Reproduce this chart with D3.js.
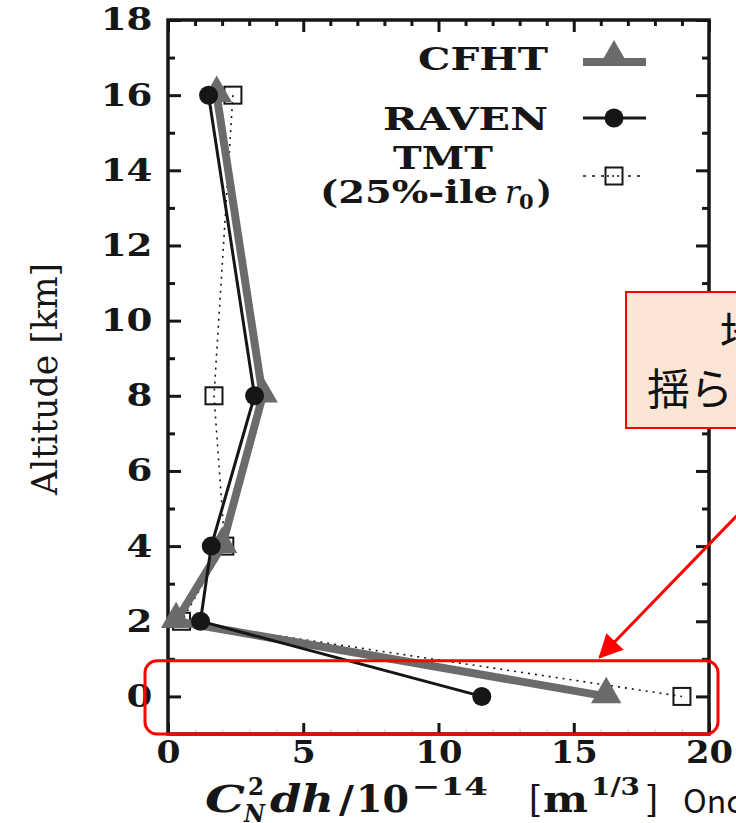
<!DOCTYPE html>
<html>
<head>
<meta charset="utf-8">
<script src="https://cdn.jsdelivr.net/npm/d3@7"></script>
<style>
  html, body { margin: 0; padding: 0; background: #fff; overflow: hidden; }
  svg { display: block; }
</style>
</head>
<body>
<svg id="chart" width="736" height="823"></svg>
<script>
// Altitude levels [km] and integrated turbulence C_N^2 dh [1e-14 m^(1/3)]
const altitudes = [16, 8, 4, 2, 0];
const cfhtValues = [1.8, 3.5, 2.0, 0.3, 16.2];
const ravenValues = [1.5, 3.2, 1.6, 1.2, 11.6];
const tmtValues = [2.4, 1.7, 2.1, 0.5, 19.0];

const xMajorTicks = [0, 5, 10, 15, 20];
const xMinorTicks = [1, 2, 3, 4, 6, 7, 8, 9, 11, 12, 13, 14, 16, 17, 18, 19];
const yMajorTicks = [0, 2, 4, 6, 8, 10, 12, 14, 16, 18];
const yMinorTicks = [1, 3, 5, 7, 9, 11, 13, 15, 17];

const svg = d3.select("#chart");
const plotLeft = 168, plotRight = 709, plotTop = 20, plotBottom = 734;

const x = d3.scaleLinear().domain([0, 20]).range([plotLeft, plotRight]);
const y = d3.scaleLinear().domain([-1, 18]).range([plotBottom, plotTop]);

const GRAY = "#6b6b6b";
const INK = "#161616";
const SERIF = "DejaVu Serif";

// ---- axes: inward ticks on all four sides ----
function styleAxis(g) {
  g.select(".domain").remove();
  g.selectAll(".tick line").attr("stroke", INK).attr("stroke-width", 3);
}
// wide bold numerals: stretch the glyphs horizontally
function labelFont(g) {
  g.selectAll("text")
    .attr("font-family", SERIF).attr("font-weight", "bold")
    .attr("font-size", 31).attr("fill", INK)
    .attr("transform", "scale(1.2,1)");
}

svg.append("g").attr("transform", `translate(${plotLeft},0)`)
  .call(d3.axisLeft(y).tickValues(yMajorTicks).tickSize(-13).tickPadding(13).tickFormat(d3.format("d")))
  .call(styleAxis).call(labelFont);
svg.append("g").attr("transform", `translate(${plotLeft},0)`)
  .call(d3.axisLeft(y).tickValues(yMinorTicks).tickSize(-7).tickFormat(""))
  .call(styleAxis);
svg.append("g").attr("transform", `translate(${plotRight},0)`)
  .call(d3.axisRight(y).tickValues(yMajorTicks).tickSize(-13).tickFormat(""))
  .call(styleAxis);
svg.append("g").attr("transform", `translate(${plotRight},0)`)
  .call(d3.axisRight(y).tickValues(yMinorTicks).tickSize(-7).tickFormat(""))
  .call(styleAxis);

svg.append("g").attr("transform", `translate(0,${plotBottom})`)
  .call(d3.axisBottom(x).tickValues(xMajorTicks).tickSize(-11).tickPadding(7).tickFormat(d3.format("d")))
  .call(styleAxis).call(labelFont)
  .call(g => g.selectAll("text").attr("transform", null).attr("textLength", d => d >= 10 ? 47 : 24)
    .attr("lengthAdjust", "spacingAndGlyphs"));
svg.append("g").attr("transform", `translate(0,${plotBottom})`)
  .call(d3.axisBottom(x).tickValues(xMinorTicks).tickSize(-5).tickFormat(""))
  .call(styleAxis)
  .call(g => g.selectAll(".tick line").attr("stroke", "#d9d9d9").attr("stroke-width", 1.5));
svg.append("g").attr("transform", `translate(0,${plotTop})`)
  .call(d3.axisTop(x).tickValues(xMajorTicks).tickSize(-12).tickFormat(""))
  .call(styleAxis);
svg.append("g").attr("transform", `translate(0,${plotTop})`)
  .call(d3.axisTop(x).tickValues(xMinorTicks).tickSize(-6).tickFormat(""))
  .call(styleAxis);

// plot frame
svg.append("rect")
  .attr("x", plotLeft).attr("y", plotTop)
  .attr("width", plotRight - plotLeft).attr("height", plotBottom - plotTop)
  .attr("fill", "none").attr("stroke", INK).attr("stroke-width", 3.5);

// ---- series ----
const pts = vals => vals.map((v, i) => [x(v), y(altitudes[i])]);
const line = d3.line();
const tri = d3.symbol().type(d3.symbolTriangle).size(400);
const sq = 17;

// TMT (dotted, open squares)
svg.selectAll(".tmt").data(pts(tmtValues)).join("rect")
  .attr("class", "tmt")
  .attr("x", d => d[0] - sq / 2).attr("y", d => d[1] - sq / 2)
  .attr("width", sq).attr("height", sq)
  .attr("fill", "#fff").attr("stroke", INK).attr("stroke-width", 2);
svg.append("path").attr("d", line(pts(tmtValues)))
  .attr("fill", "none").attr("stroke", INK).attr("stroke-width", 1.6)
  .attr("stroke-dasharray", "2,5");

// CFHT (thick gray, triangles)
svg.append("path").attr("d", line(pts(cfhtValues)))
  .attr("fill", "none").attr("stroke", GRAY).attr("stroke-width", 8)
  .attr("stroke-linejoin", "miter");
svg.selectAll(".cfht").data(pts(cfhtValues)).join("path")
  .attr("class", "cfht")
  .attr("d", tri).attr("transform", d => `translate(${d[0]},${d[1] - 2})`)
  .attr("fill", GRAY);

// RAVEN (black, filled circles)
svg.append("path").attr("d", line(pts(ravenValues)))
  .attr("fill", "none").attr("stroke", INK).attr("stroke-width", 3);
svg.selectAll(".raven").data(pts(ravenValues)).join("circle")
  .attr("class", "raven")
  .attr("cx", d => d[0]).attr("cy", d => d[1]).attr("r", 9.5)
  .attr("fill", INK);

// ---- legend ----
const lg = svg.append("g").attr("font-family", SERIF).attr("font-weight", "bold")
  .attr("fill", INK).attr("font-size", 31);
const lx0 = 583, lx1 = 646, lxm = 614;
const stretch = s => s.attr("lengthAdjust", "spacingAndGlyphs");

lg.append("text").attr("x", 418).attr("y", 70).attr("textLength", 130).call(stretch).text("CFHT");
lg.append("line").attr("x1", lx0).attr("x2", lx1).attr("y1", 62).attr("y2", 62)
  .attr("stroke", GRAY).attr("stroke-width", 8);
lg.append("path").attr("d", d3.symbol().type(d3.symbolTriangle).size(330)())
  .attr("transform", `translate(${lxm},56)`).attr("fill", GRAY);

lg.append("text").attr("x", 383).attr("y", 130).attr("textLength", 165).call(stretch).text("RAVEN");
lg.append("line").attr("x1", lx0).attr("x2", lx1).attr("y1", 118).attr("y2", 118)
  .attr("stroke", INK).attr("stroke-width", 3);
lg.append("circle").attr("cx", lxm).attr("cy", 118).attr("r", 9.5).attr("fill", INK);

lg.append("text").attr("x", 393).attr("y", 169).attr("textLength", 100).call(stretch).text("TMT");
lg.append("text").attr("x", 320).attr("y", 203).attr("textLength", 178).call(stretch).text("(25%-ile");
lg.append("text").attr("x", 505).attr("y", 203).attr("font-style", "italic").attr("font-weight", "normal")
  .text("r");
lg.append("text").attr("x", 519).attr("y", 209).attr("font-size", 21).text("0");
lg.append("text").attr("x", 537).attr("y", 203).text(")");
lg.append("line").attr("x1", lx0).attr("x2", lx1).attr("y1", 176).attr("y2", 176)
  .attr("stroke", INK).attr("stroke-width", 1.6).attr("stroke-dasharray", "3,6");
lg.append("rect").attr("x", lxm - sq / 2).attr("y", 176 - sq / 2).attr("width", sq).attr("height", sq)
  .attr("fill", "#fff").attr("stroke", INK).attr("stroke-width", 2);
lg.append("line").attr("x1", lxm - 7).attr("x2", lxm + 7).attr("y1", 176).attr("y2", 176)
  .attr("stroke", INK).attr("stroke-width", 1.6).attr("stroke-dasharray", "2,3");

// ---- axis titles ----
svg.append("text")
  .attr("transform", `translate(57,${y(8.45)}) rotate(-90)`)
  .attr("text-anchor", "middle")
  .attr("font-family", SERIF).attr("font-size", 35).attr("fill", INK)
  .attr("textLength", 232).attr("lengthAdjust", "spacingAndGlyphs")
  .text("Altitude [km]");

// C_N^2 dh / 10^-14 [m^(1/3)], set piece by piece
const xt = svg.append("g").attr("font-family", SERIF).attr("font-weight", "bold").attr("fill", INK);
const piece = (px, py, size, str, opts = {}) => {
  const t = xt.append("text").attr("x", px).attr("y", py).attr("font-size", size).text(str);
  if (opts.italic) t.attr("font-style", "italic");
  if (opts.normal) t.attr("font-weight", "normal");
  if (opts.len) t.attr("textLength", opts.len).attr("lengthAdjust", "spacingAndGlyphs");
  return t;
};
piece(205, 812, 38, "C", { italic: true, len: 40 });
piece(248, 795, 24, "2", { len: 16 });
piece(244, 822, 24, "N", { italic: true, len: 21 });
piece(270, 812, 38, "dh", { italic: true, len: 64 });
piece(339, 812, 38, "/", { len: 15 });
piece(356, 812, 38, "10", { len: 53 });
piece(412, 795, 25, "−14", { len: 76 });
piece(529, 812, 38, "[", { normal: true, len: 13 });
piece(543, 812, 38, "m", { len: 45 });
piece(591, 795, 25, "1/3", { len: 49 });
piece(645, 812, 38, "]", { normal: true, len: 13 });
svg.append("text").attr("x", 683).attr("y", 813)
  .attr("font-family", "Noto Sans CJK JP").attr("font-size", 32).attr("fill", "#111")
  .text("Onc");

// ---- annotation ----
const RED = "#ff0000";
svg.append("rect")
  .attr("x", x(0) - 23).attr("y", y(0.95))
  .attr("width", x(20) - x(0) + 32).attr("height", y(-1) - y(0.95))
  .attr("rx", 12).attr("fill", "none").attr("stroke", RED).attr("stroke-width", 3);

svg.append("rect").attr("x", 626).attr("y", 292).attr("width", 240).attr("height", 136)
  .attr("fill", "#fbe5d6").attr("stroke", RED).attr("stroke-width", 2);
const note = svg.append("text").attr("font-family", "Noto Sans CJK JP")
  .attr("font-size", 43).attr("fill", "#111").attr("text-anchor", "start");
note.append("tspan").attr("x", 720).attr("y", 349).text("地表で");
note.append("tspan").attr("x", 647).attr("y", 405).text("揺らぎが大きい");

const defs = svg.append("defs");
defs.append("marker").attr("id", "head").attr("viewBox", "0 0 10 10")
  .attr("refX", 9).attr("refY", 5).attr("markerWidth", 9).attr("markerHeight", 8)
  .attr("markerUnits", "strokeWidth").attr("orient", "auto")
  .append("path").attr("d", "M0,0 L10,5 L0,10 Z").attr("fill", RED);
svg.append("line").attr("x1", 752).attr("y1", 500).attr("x2", 600).attr("y2", 657)
  .attr("stroke", RED).attr("stroke-width", 3).attr("marker-end", "url(#head)");
</script>
</body>
</html>
